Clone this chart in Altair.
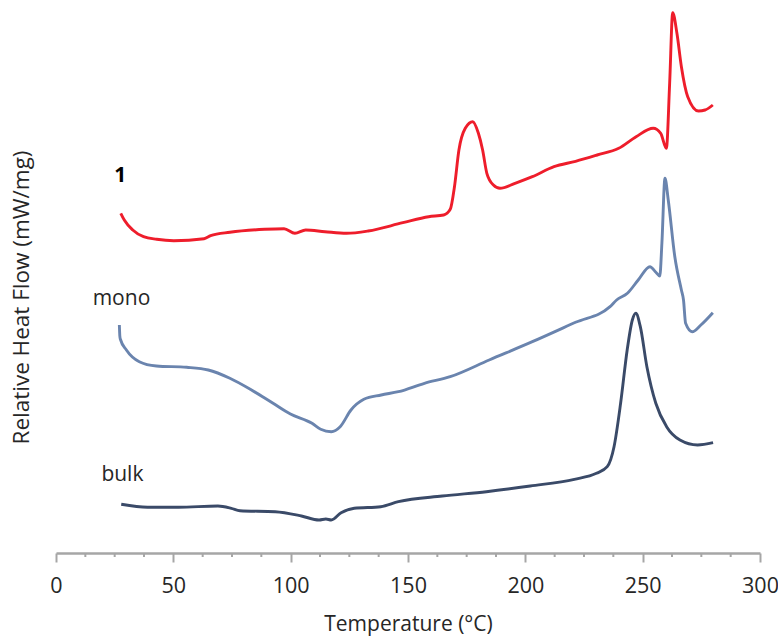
import altair as alt
import pandas as pd

# DSC traces: temperature (°C) and relative heat flow (arbitrary offset units)
red_t = [27.6, 29.1, 32.7, 37.3, 42.9, 50.2, 63.1, 65.9, 74.1, 88.9, 97.2, 101.8,
         106.4, 114.6, 123.8, 133.0, 147.8, 158.8, 165.2, 168.0, 169.8, 171.7, 174.4,
         177.6, 180.0, 181.8, 183.6, 186.4, 189.2, 195.6, 203.0, 212.2, 221.4, 230.6,
         239.8, 247.2, 254.5, 257.7, 260.1, 261.5, 262.8, 264.6, 266.5, 269.2, 273.8,
         276.6, 279.9]
red_hf = [33.97, 33.3, 32.3, 31.63, 31.37, 31.23, 31.43, 31.73, 32.07, 32.37, 32.43, 31.97,
          32.3, 32.13, 31.97, 32.2, 33.03, 33.63, 33.8, 34.37, 36.63, 40.3, 42.47,
          43.13, 41.97, 40.3, 37.97, 36.8, 36.47, 36.97, 37.63, 38.63, 39.17, 39.8,
          40.47, 41.63, 42.47, 41.97, 40.47, 46.97, 54.03, 51.97, 48.63, 45.63, 44.2,
          44.3, 44.8]

mono_t = [27.0, 27.2, 27.4, 30.0, 35.5, 42.8, 55.7, 64.9, 74.1, 83.3, 92.5, 99.9,
          109.1, 112.8, 117.3, 121.1, 125.7, 131.2, 138.6, 145.9, 157.0, 168.0, 184.6,
          203.0, 221.4, 236.1, 238.9, 243.5, 248.1, 253.1, 255.4, 257.3, 258.2, 259.5,
          260.9, 263.7, 266.5, 267.4, 268.3, 271.1, 274.8, 279.9]
mono_hf = [22.8, 21.7, 21.4, 20.3, 19.13, 18.7, 18.57, 18.3, 17.47, 16.3, 14.97, 13.9,
           12.97, 12.37, 12.13, 12.63, 14.3, 15.37, 15.8, 16.13, 16.97, 17.63, 19.3,
           21.13, 23.07, 24.63, 25.3, 25.97, 27.3, 28.63, 28.13, 27.7, 31.0, 37.47,
           35.3, 29.63, 26.3, 25.3, 22.97, 22.13, 22.8, 24.03]

bulk_t = [27.8, 39.0, 52.2, 69.0, 74.7, 78.4, 93.4, 104.6, 112.1, 115.0, 117.3, 121.5,
          127.1, 138.4, 145.9, 164.6, 183.4, 202.1, 220.9, 230.3, 234.9, 237.8, 240.6,
          243.4, 245.6, 247.1, 249.0, 251.8, 255.6, 260.2, 265.9, 273.4, 280.0]
bulk_hf = [4.87, 4.57, 4.57, 4.7, 4.47, 4.23, 4.13, 3.7, 3.3, 3.4, 3.3, 4.03,
           4.47, 4.63, 5.13, 5.7, 6.13, 6.7, 7.37, 7.97, 8.63, 10.63, 14.97,
           20.3, 23.3, 23.97, 22.63, 18.63, 14.97, 12.63, 11.3, 10.8, 11.03]

series_names = ["1", "mono", "bulk"]
series_colors = ["#EE1D2B", "#6A84AE", "#3A4A68"]

# Curve labels placed beside the start of each trace
label_text = ["mono", "bulk"]
label_t = [27.9, 28.3]
label_hf = [25.4, 7.8]
bold_text = ["1"]
bold_t = [27.4]
bold_hf = [37.7]

major_ticks = [0, 50, 100, 150, 200, 250, 300]
minor_ticks = [v + d for v in range(0, 300, 50) for d in (12.5, 25, 37.5)]

FONT = "Open Sans"
TEXT = "#262626"
AXIS = "#A6A6A6"


def frame(name, t, hf):
    return pd.DataFrame({"series": name, "T": t, "HF": hf, "idx": range(len(t))})


df = pd.concat([frame("1", red_t, red_hf),
                frame("mono", mono_t, mono_hf),
                frame("bulk", bulk_t, bulk_hf)], ignore_index=True)

x_scale = alt.Scale(domain=[0, 300], nice=False)
y_scale = alt.Scale(domain=[0, 54.8], nice=False, zero=False)

x_axis = alt.Axis(
    title="Temperature (°C)", values=major_ticks, grid=False, labelFlush=False,
    domainColor=AXIS, domainWidth=2.5, tickColor=AXIS, tickWidth=2, tickSize=9,
    labelFont=FONT, labelFontSize=21.5, labelColor=TEXT, labelPadding=13,
    titleFont=FONT, titleFontSize=21, titleFontWeight="normal", titleColor=TEXT,
    titleY=71, titleBaseline="middle")
y_axis = alt.Axis(
    title="Relative Heat Flow (mW/mg)", domain=False, ticks=False, labels=False,
    grid=False, titleFont=FONT, titleFontSize=22.5, titleFontWeight="normal",
    titleColor=TEXT, titleX=-35, titleY=292, titleBaseline="middle")

X = alt.X("T:Q", scale=x_scale, axis=x_axis)
Y = alt.Y("HF:Q", scale=y_scale, axis=y_axis)

lines = alt.Chart(df).mark_line(strokeWidth=2.9, interpolate="monotone").encode(
    x=X, y=Y,
    color=alt.Color("series:N", scale=alt.Scale(domain=series_names, range=series_colors),
                    legend=None),
    order="idx:Q",
    detail="series:N",
)

minor = alt.Chart(pd.DataFrame({"T": minor_ticks})).mark_rule(
    color=AXIS, strokeWidth=2).encode(
    x=X, y=alt.value(548), y2=alt.value(552),
)

labels = alt.Chart(pd.DataFrame({"text": label_text, "T": label_t, "HF": label_hf})).mark_text(
    font=FONT, fontSize=21, color=TEXT).encode(x=X, y=Y, text="text:N")

bold = alt.Chart(pd.DataFrame({"text": bold_text, "T": bold_t, "HF": bold_hf})).mark_text(
    font=FONT, fontSize=21, fontWeight="bold", color="#000000").encode(x=X, y=Y, text="text:N")

chart = alt.layer(lines, minor, labels, bold).properties(
    width=704, height=548,
    autosize=alt.AutoSizeParams(type="none"),
    padding={"left": 56, "top": 5, "right": 18, "bottom": 85},
    background="white",
).configure_view(stroke=None)

chart.save("out.html", embed_options={"renderer": "svg", "actions": False})
